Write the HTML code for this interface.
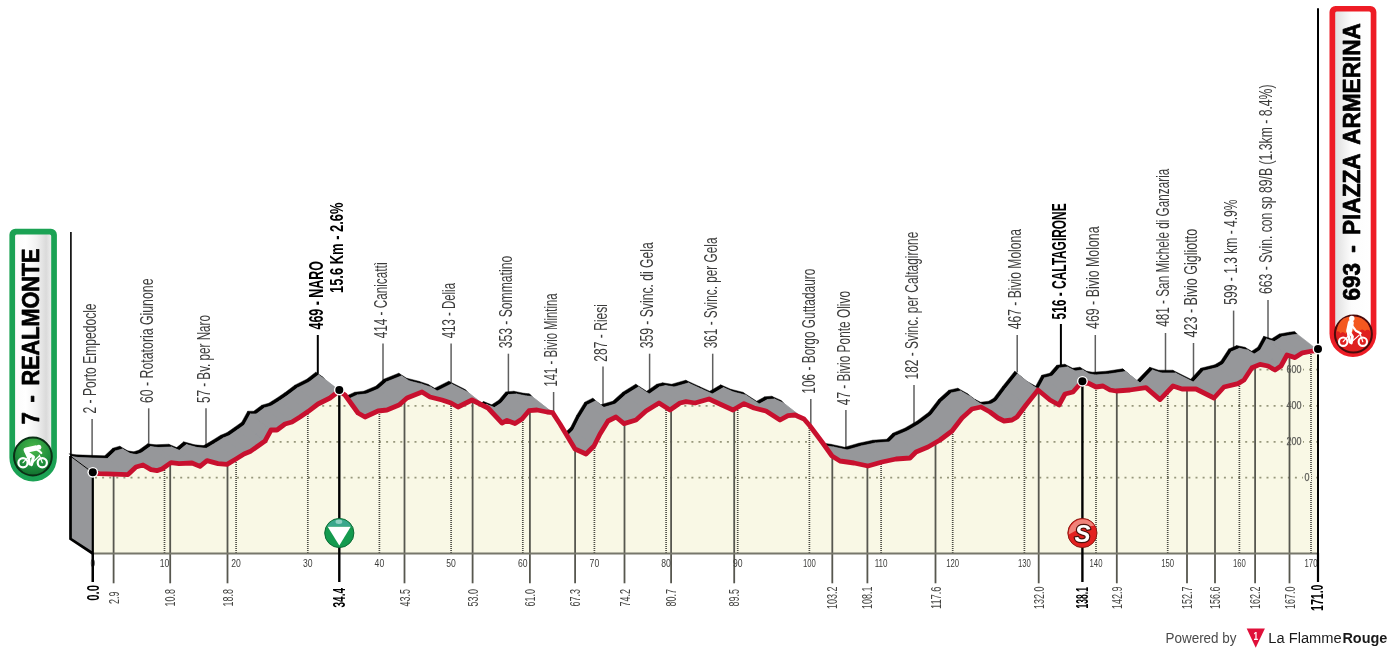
<!DOCTYPE html>
<html><head><meta charset="utf-8"><title>Stage profile</title>
<style>
html,body{margin:0;padding:0;background:#fff}
body{width:1390px;height:654px;overflow:hidden;position:relative;font-family:"Liberation Sans",sans-serif}
svg{position:absolute;left:0;top:0;display:block}
svg text{font-family:"Liberation Sans",sans-serif}
</style></head><body>
<svg width="1390" height="654" viewBox="0 0 1390 654">
<defs>
<clipPath id="front"><polygon points="92.5,472.5 99.0,473.6 128.0,474.6 136.0,467.0 143.0,465.0 151.0,469.6 157.0,470.6 162.0,469.0 171.0,462.6 179.0,463.6 192.0,463.0 200.0,466.4 207.0,460.6 218.0,463.6 227.0,464.4 236.0,459.0 244.0,454.0 250.0,451.6 258.0,446.0 265.0,441.0 271.0,430.0 277.0,430.0 285.0,424.0 292.0,422.0 300.0,417.0 308.0,411.6 318.0,404.0 330.0,398.0 339.0,391.0 345.0,395.0 358.0,413.0 365.0,417.0 378.0,411.0 387.0,410.0 399.0,405.0 407.0,398.0 422.0,392.0 430.0,397.0 442.0,400.0 451.0,403.0 458.0,407.0 472.0,400.0 488.0,408.0 502.0,423.0 507.0,420.4 515.0,423.6 522.0,419.0 529.0,410.7 537.0,410.0 547.0,412.0 552.6,412.6 560.0,424.0 575.0,449.0 586.0,454.0 594.0,446.0 600.0,434.0 608.0,421.0 616.0,417.0 624.0,423.6 636.0,420.0 646.0,411.0 659.0,403.0 670.0,410.0 680.0,403.0 686.0,401.6 695.0,403.0 709.0,399.0 722.0,405.0 733.0,410.0 744.0,403.6 754.0,408.0 766.0,411.0 780.0,420.0 788.0,415.6 795.0,415.0 804.0,419.0 810.0,426.0 822.0,442.0 832.0,456.0 840.0,461.0 854.0,463.0 868.0,466.0 882.0,462.0 896.0,459.0 910.0,458.0 916.0,452.0 928.0,447.0 940.0,440.0 952.0,431.0 962.0,418.0 972.0,409.0 981.0,407.0 990.0,412.0 998.0,418.0 1004.0,421.0 1012.0,420.0 1017.0,417.0 1026.0,405.0 1038.0,390.0 1050.0,400.0 1059.0,405.0 1065.0,394.0 1073.0,392.0 1080.0,384.0 1088.0,383.0 1096.0,387.0 1103.0,386.0 1110.0,390.0 1116.0,391.0 1130.0,390.0 1146.0,387.6 1160.0,399.6 1173.0,386.0 1182.0,389.0 1196.0,389.0 1214.0,398.0 1224.0,387.0 1238.0,383.6 1244.0,380.0 1252.0,367.8 1260.0,364.4 1268.0,366.0 1275.0,370.0 1281.0,366.0 1287.0,355.0 1295.0,357.6 1302.5,352.8 1312.5,351.0 1318.0,350.3 1318.0,553.5 92.5,553.5"/></clipPath>
<linearGradient id="cylL" x1="0" x2="1" y1="0" y2="0"><stop offset="0" stop-color="#fbfbfb"/><stop offset="0.3" stop-color="#ffffff"/><stop offset="0.6" stop-color="#f1f1f1"/><stop offset="0.86" stop-color="#dadada"/><stop offset="1" stop-color="#ededed"/></linearGradient>
<linearGradient id="cylR" x1="0" x2="1" y1="0" y2="0"><stop offset="0" stop-color="#dfdfdf"/><stop offset="0.2" stop-color="#ececec"/><stop offset="0.45" stop-color="#fcfcfc"/><stop offset="1" stop-color="#ffffff"/></linearGradient>
<radialGradient id="gball" cx="0.5" cy="0.3" r="0.75"><stop offset="0" stop-color="#4cb848"/><stop offset="0.6" stop-color="#1f8f3c"/><stop offset="1" stop-color="#0f6a2c"/></radialGradient>
<radialGradient id="rball" cx="0.5" cy="0.35" r="0.75"><stop offset="0" stop-color="#f26522"/><stop offset="0.55" stop-color="#e0201c"/><stop offset="1" stop-color="#b5121b"/></radialGradient>
</defs>
<rect width="1390" height="654" fill="#fff"/>
<line x1="92.1" y1="419.0" x2="92.1" y2="456.5" stroke="#5f5f5f" stroke-width="1.5"/>
<line x1="148.7" y1="408.3" x2="148.7" y2="446.2" stroke="#5f5f5f" stroke-width="1.5"/>
<line x1="206.0" y1="408.3" x2="206.0" y2="446.8" stroke="#5f5f5f" stroke-width="1.5"/>
<line x1="317.8" y1="335.0" x2="317.8" y2="373.9" stroke="#000" stroke-width="2"/>
<line x1="383.0" y1="343.5" x2="383.0" y2="383.4" stroke="#5f5f5f" stroke-width="1.5"/>
<line x1="451.1" y1="343.5" x2="451.1" y2="382.6" stroke="#5f5f5f" stroke-width="1.5"/>
<line x1="508.4" y1="353.7" x2="508.4" y2="393.1" stroke="#5f5f5f" stroke-width="1.5"/>
<line x1="553.6" y1="392.0" x2="553.6" y2="430.0" stroke="#5f5f5f" stroke-width="1.5"/>
<line x1="603.0" y1="366.6" x2="603.0" y2="405.7" stroke="#5f5f5f" stroke-width="1.5"/>
<line x1="649.6" y1="353.7" x2="649.6" y2="392.3" stroke="#5f5f5f" stroke-width="1.5"/>
<line x1="712.7" y1="353.7" x2="712.7" y2="392.3" stroke="#5f5f5f" stroke-width="1.5"/>
<line x1="810.8" y1="399.0" x2="810.8" y2="437.6" stroke="#5f5f5f" stroke-width="1.5"/>
<line x1="845.9" y1="410.0" x2="845.9" y2="448.1" stroke="#5f5f5f" stroke-width="1.5"/>
<line x1="914.0" y1="385.0" x2="914.0" y2="425.5" stroke="#5f5f5f" stroke-width="1.5"/>
<line x1="1017.2" y1="335.0" x2="1017.2" y2="372.6" stroke="#5f5f5f" stroke-width="1.5"/>
<line x1="1060.9" y1="324.0" x2="1060.9" y2="366.2" stroke="#000" stroke-width="2"/>
<line x1="1095.3" y1="335.0" x2="1095.3" y2="373.4" stroke="#5f5f5f" stroke-width="1.5"/>
<line x1="1165.5" y1="333.0" x2="1165.5" y2="371.4" stroke="#5f5f5f" stroke-width="1.5"/>
<line x1="1193.5" y1="343.0" x2="1193.5" y2="380.3" stroke="#5f5f5f" stroke-width="1.5"/>
<line x1="1233.6" y1="310.6" x2="1233.6" y2="349.3" stroke="#5f5f5f" stroke-width="1.5"/>
<line x1="1268.0" y1="300.0" x2="1268.0" y2="337.9" stroke="#5f5f5f" stroke-width="1.5"/>
<path d="M69.2,453.7L75.7,454.8L78.4,457.5L71.9,456.4ZM75.7,454.8L104.7,455.8L107.4,458.5L78.4,457.5ZM104.7,455.8L112.7,448.2L115.4,450.9L107.4,458.5ZM112.7,448.2L119.7,446.2L122.4,448.9L115.4,450.9ZM119.7,446.2L127.7,450.8L130.4,453.5L122.4,448.9ZM127.7,450.8L133.7,451.8L136.4,454.5L130.4,453.5ZM133.7,451.8L138.7,450.2L141.4,452.9L136.4,454.5ZM138.7,450.2L147.7,443.8L150.4,446.5L141.4,452.9ZM147.7,443.8L155.7,444.8L158.4,447.5L150.4,446.5ZM155.7,444.8L168.7,444.2L171.4,446.9L158.4,447.5ZM168.7,444.2L176.7,447.6L179.4,450.3L171.4,446.9ZM176.7,447.6L183.7,441.8L186.4,444.5L179.4,450.3ZM183.7,441.8L194.7,444.8L197.4,447.5L186.4,444.5ZM194.7,444.8L203.7,445.6L206.4,448.3L197.4,447.5ZM203.7,445.6L212.7,440.2L215.4,442.9L206.4,448.3ZM212.7,440.2L220.7,435.2L223.4,437.9L215.4,442.9ZM220.7,435.2L226.7,432.8L229.4,435.5L223.4,437.9ZM226.7,432.8L234.7,427.2L237.4,429.9L229.4,435.5ZM234.7,427.2L241.7,422.2L244.4,424.9L237.4,429.9ZM241.7,422.2L247.7,411.2L250.4,413.9L244.4,424.9ZM247.7,411.2L253.7,411.2L256.4,413.9L250.4,413.9ZM253.7,411.2L261.7,405.2L264.4,407.9L256.4,413.9ZM261.7,405.2L268.7,403.2L271.4,405.9L264.4,407.9ZM268.7,403.2L276.7,398.2L279.4,400.9L271.4,405.9ZM276.7,398.2L284.7,392.8L287.4,395.5L279.4,400.9ZM284.7,392.8L294.7,385.2L297.4,387.9L287.4,395.5ZM294.7,385.2L306.7,379.2L309.4,381.9L297.4,387.9ZM306.7,379.2L315.7,372.2L318.4,374.9L309.4,381.9ZM315.7,372.2L321.7,376.2L324.4,378.9L318.4,374.9ZM324.4,378.9L337.4,396.9L334.7,394.2L321.7,376.2ZM334.7,394.2L341.7,398.2L344.4,400.9L337.4,396.9ZM341.7,398.2L354.7,392.2L357.4,394.9L344.4,400.9ZM354.7,392.2L363.7,391.2L366.4,393.9L357.4,394.9ZM363.7,391.2L375.7,386.2L378.4,388.9L366.4,393.9ZM375.7,386.2L383.7,379.2L386.4,381.9L378.4,388.9ZM383.7,379.2L398.7,373.2L401.4,375.9L386.4,381.9ZM398.7,373.2L406.7,378.2L409.4,380.9L401.4,375.9ZM406.7,378.2L418.7,381.2L421.4,383.9L409.4,380.9ZM418.7,381.2L427.7,384.2L430.4,386.9L421.4,383.9ZM427.7,384.2L434.7,388.2L437.4,390.9L430.4,386.9ZM434.7,388.2L448.7,381.2L451.4,383.9L437.4,390.9ZM448.7,381.2L464.7,389.2L467.4,391.9L451.4,383.9ZM467.4,391.9L481.4,406.9L478.7,404.2L464.7,389.2ZM478.7,404.2L483.7,401.6L486.4,404.3L481.4,406.9ZM483.7,401.6L491.7,404.8L494.4,407.5L486.4,404.3ZM491.7,404.8L498.7,400.2L501.4,402.9L494.4,407.5ZM498.7,400.2L505.7,391.9L508.4,394.6L501.4,402.9ZM505.7,391.9L513.7,391.2L516.4,393.9L508.4,394.6ZM513.7,391.2L523.7,393.2L526.4,395.9L516.4,393.9ZM523.7,393.2L529.3,393.8L532.0,396.5L526.4,395.9ZM532.0,396.5L539.4,407.9L536.7,405.2L529.3,393.8ZM539.4,407.9L554.4,432.9L551.7,430.2L536.7,405.2ZM551.7,430.2L562.7,435.2L565.4,437.9L554.4,432.9ZM562.7,435.2L570.7,427.2L573.4,429.9L565.4,437.9ZM570.7,427.2L576.7,415.2L579.4,417.9L573.4,429.9ZM576.7,415.2L584.7,402.2L587.4,404.9L579.4,417.9ZM584.7,402.2L592.7,398.2L595.4,400.9L587.4,404.9ZM592.7,398.2L600.7,404.8L603.4,407.5L595.4,400.9ZM600.7,404.8L612.7,401.2L615.4,403.9L603.4,407.5ZM612.7,401.2L622.7,392.2L625.4,394.9L615.4,403.9ZM622.7,392.2L635.7,384.2L638.4,386.9L625.4,394.9ZM635.7,384.2L646.7,391.2L649.4,393.9L638.4,386.9ZM646.7,391.2L656.7,384.2L659.4,386.9L649.4,393.9ZM656.7,384.2L662.7,382.8L665.4,385.5L659.4,386.9ZM662.7,382.8L671.7,384.2L674.4,386.9L665.4,385.5ZM671.7,384.2L685.7,380.2L688.4,382.9L674.4,386.9ZM685.7,380.2L698.7,386.2L701.4,388.9L688.4,382.9ZM698.7,386.2L709.7,391.2L712.4,393.9L701.4,388.9ZM709.7,391.2L720.7,384.8L723.4,387.5L712.4,393.9ZM720.7,384.8L730.7,389.2L733.4,391.9L723.4,387.5ZM730.7,389.2L742.7,392.2L745.4,394.9L733.4,391.9ZM742.7,392.2L756.7,401.2L759.4,403.9L745.4,394.9ZM756.7,401.2L764.7,396.8L767.4,399.5L759.4,403.9ZM764.7,396.8L771.7,396.2L774.4,398.9L767.4,399.5ZM771.7,396.2L780.7,400.2L783.4,402.9L774.4,398.9ZM783.4,402.9L789.4,409.9L786.7,407.2L780.7,400.2ZM789.4,409.9L801.4,425.9L798.7,423.2L786.7,407.2ZM801.4,425.9L811.4,439.9L808.7,437.2L798.7,423.2ZM808.7,437.2L816.7,442.2L819.4,444.9L811.4,439.9ZM816.7,442.2L830.7,444.2L833.4,446.9L819.4,444.9ZM830.7,444.2L844.7,447.2L847.4,449.9L833.4,446.9ZM844.7,447.2L858.7,443.2L861.4,445.9L847.4,449.9ZM858.7,443.2L872.7,440.2L875.4,442.9L861.4,445.9ZM872.7,440.2L886.7,439.2L889.4,441.9L875.4,442.9ZM886.7,439.2L892.7,433.2L895.4,435.9L889.4,441.9ZM892.7,433.2L904.7,428.2L907.4,430.9L895.4,435.9ZM904.7,428.2L916.7,421.2L919.4,423.9L907.4,430.9ZM916.7,421.2L928.7,412.2L931.4,414.9L919.4,423.9ZM928.7,412.2L938.7,399.2L941.4,401.9L931.4,414.9ZM938.7,399.2L948.7,390.2L951.4,392.9L941.4,401.9ZM948.7,390.2L957.7,388.2L960.4,390.9L951.4,392.9ZM957.7,388.2L966.7,393.2L969.4,395.9L960.4,390.9ZM966.7,393.2L974.7,399.2L977.4,401.9L969.4,395.9ZM974.7,399.2L980.7,402.2L983.4,404.9L977.4,401.9ZM980.7,402.2L988.7,401.2L991.4,403.9L983.4,404.9ZM988.7,401.2L993.7,398.2L996.4,400.9L991.4,403.9ZM993.7,398.2L1002.7,386.2L1005.4,388.9L996.4,400.9ZM1002.7,386.2L1014.7,371.2L1017.4,373.9L1005.4,388.9ZM1014.7,371.2L1026.7,381.2L1029.4,383.9L1017.4,373.9ZM1026.7,381.2L1035.7,386.2L1038.4,388.9L1029.4,383.9ZM1035.7,386.2L1041.7,375.2L1044.4,377.9L1038.4,388.9ZM1041.7,375.2L1049.7,373.2L1052.4,375.9L1044.4,377.9ZM1049.7,373.2L1056.7,365.2L1059.4,367.9L1052.4,375.9ZM1056.7,365.2L1064.7,364.2L1067.4,366.9L1059.4,367.9ZM1064.7,364.2L1072.7,368.2L1075.4,370.9L1067.4,366.9ZM1072.7,368.2L1079.7,367.2L1082.4,369.9L1075.4,370.9ZM1079.7,367.2L1086.7,371.2L1089.4,373.9L1082.4,369.9ZM1086.7,371.2L1092.7,372.2L1095.4,374.9L1089.4,373.9ZM1092.7,372.2L1106.7,371.2L1109.4,373.9L1095.4,374.9ZM1106.7,371.2L1122.7,368.8L1125.4,371.5L1109.4,373.9ZM1122.7,368.8L1136.7,380.8L1139.4,383.5L1125.4,371.5ZM1136.7,380.8L1149.7,367.2L1152.4,369.9L1139.4,383.5ZM1149.7,367.2L1158.7,370.2L1161.4,372.9L1152.4,369.9ZM1158.7,370.2L1172.7,370.2L1175.4,372.9L1161.4,372.9ZM1172.7,370.2L1190.7,379.2L1193.4,381.9L1175.4,372.9ZM1190.7,379.2L1200.7,368.2L1203.4,370.9L1193.4,381.9ZM1200.7,368.2L1214.7,364.8L1217.4,367.5L1203.4,370.9ZM1214.7,364.8L1220.7,361.2L1223.4,363.9L1217.4,367.5ZM1220.7,361.2L1228.7,349.0L1231.4,351.7L1223.4,363.9ZM1228.7,349.0L1236.7,345.6L1239.4,348.3L1231.4,351.7ZM1236.7,345.6L1244.7,347.2L1247.4,349.9L1239.4,348.3ZM1244.7,347.2L1251.7,351.2L1254.4,353.9L1247.4,349.9ZM1251.7,351.2L1257.7,347.2L1260.4,349.9L1254.4,353.9ZM1257.7,347.2L1263.7,336.2L1266.4,338.9L1260.4,349.9ZM1263.7,336.2L1271.7,338.8L1274.4,341.5L1266.4,338.9ZM1271.7,338.8L1279.2,334.0L1281.9,336.7L1274.4,341.5ZM1279.2,334.0L1289.2,332.2L1291.9,334.9L1281.9,336.7ZM1289.2,332.2L1294.7,331.5L1297.4,334.2L1291.9,334.9Z" fill="#000" stroke="#000" stroke-width="0.45" stroke-linejoin="round"/>
<path d="M71.9,456.4L78.4,457.5L99.0,473.6L92.5,472.5ZM78.4,457.5L107.4,458.5L128.0,474.6L99.0,473.6ZM107.4,458.5L115.4,450.9L136.0,467.0L128.0,474.6ZM115.4,450.9L122.4,448.9L143.0,465.0L136.0,467.0ZM122.4,448.9L130.4,453.5L151.0,469.6L143.0,465.0ZM130.4,453.5L136.4,454.5L157.0,470.6L151.0,469.6ZM136.4,454.5L141.4,452.9L162.0,469.0L157.0,470.6ZM141.4,452.9L150.4,446.5L171.0,462.6L162.0,469.0ZM150.4,446.5L158.4,447.5L179.0,463.6L171.0,462.6ZM158.4,447.5L171.4,446.9L192.0,463.0L179.0,463.6ZM171.4,446.9L179.4,450.3L200.0,466.4L192.0,463.0ZM179.4,450.3L186.4,444.5L207.0,460.6L200.0,466.4ZM186.4,444.5L197.4,447.5L218.0,463.6L207.0,460.6ZM197.4,447.5L206.4,448.3L227.0,464.4L218.0,463.6ZM206.4,448.3L215.4,442.9L236.0,459.0L227.0,464.4ZM215.4,442.9L223.4,437.9L244.0,454.0L236.0,459.0ZM223.4,437.9L229.4,435.5L250.0,451.6L244.0,454.0ZM229.4,435.5L237.4,429.9L258.0,446.0L250.0,451.6ZM237.4,429.9L244.4,424.9L265.0,441.0L258.0,446.0ZM244.4,424.9L250.4,413.9L271.0,430.0L265.0,441.0ZM250.4,413.9L256.4,413.9L277.0,430.0L271.0,430.0ZM256.4,413.9L264.4,407.9L285.0,424.0L277.0,430.0ZM264.4,407.9L271.4,405.9L292.0,422.0L285.0,424.0ZM271.4,405.9L279.4,400.9L300.0,417.0L292.0,422.0ZM279.4,400.9L287.4,395.5L308.0,411.6L300.0,417.0ZM287.4,395.5L297.4,387.9L318.0,404.0L308.0,411.6ZM297.4,387.9L309.4,381.9L330.0,398.0L318.0,404.0ZM309.4,381.9L318.4,374.9L339.0,391.0L330.0,398.0ZM318.4,374.9L324.4,378.9L345.0,395.0L339.0,391.0ZM345.0,395.0L358.0,413.0L337.4,396.9L324.4,378.9ZM337.4,396.9L344.4,400.9L365.0,417.0L358.0,413.0ZM344.4,400.9L357.4,394.9L378.0,411.0L365.0,417.0ZM357.4,394.9L366.4,393.9L387.0,410.0L378.0,411.0ZM366.4,393.9L378.4,388.9L399.0,405.0L387.0,410.0ZM378.4,388.9L386.4,381.9L407.0,398.0L399.0,405.0ZM386.4,381.9L401.4,375.9L422.0,392.0L407.0,398.0ZM401.4,375.9L409.4,380.9L430.0,397.0L422.0,392.0ZM409.4,380.9L421.4,383.9L442.0,400.0L430.0,397.0ZM421.4,383.9L430.4,386.9L451.0,403.0L442.0,400.0ZM430.4,386.9L437.4,390.9L458.0,407.0L451.0,403.0ZM437.4,390.9L451.4,383.9L472.0,400.0L458.0,407.0ZM451.4,383.9L467.4,391.9L488.0,408.0L472.0,400.0ZM488.0,408.0L502.0,423.0L481.4,406.9L467.4,391.9ZM481.4,406.9L486.4,404.3L507.0,420.4L502.0,423.0ZM486.4,404.3L494.4,407.5L515.0,423.6L507.0,420.4ZM494.4,407.5L501.4,402.9L522.0,419.0L515.0,423.6ZM501.4,402.9L508.4,394.6L529.0,410.7L522.0,419.0ZM508.4,394.6L516.4,393.9L537.0,410.0L529.0,410.7ZM516.4,393.9L526.4,395.9L547.0,412.0L537.0,410.0ZM526.4,395.9L532.0,396.5L552.6,412.6L547.0,412.0ZM552.6,412.6L560.0,424.0L539.4,407.9L532.0,396.5ZM560.0,424.0L575.0,449.0L554.4,432.9L539.4,407.9ZM554.4,432.9L565.4,437.9L586.0,454.0L575.0,449.0ZM565.4,437.9L573.4,429.9L594.0,446.0L586.0,454.0ZM573.4,429.9L579.4,417.9L600.0,434.0L594.0,446.0ZM579.4,417.9L587.4,404.9L608.0,421.0L600.0,434.0ZM587.4,404.9L595.4,400.9L616.0,417.0L608.0,421.0ZM616.0,417.0L624.0,423.6L603.4,407.5L595.4,400.9ZM603.4,407.5L615.4,403.9L636.0,420.0L624.0,423.6ZM615.4,403.9L625.4,394.9L646.0,411.0L636.0,420.0ZM625.4,394.9L638.4,386.9L659.0,403.0L646.0,411.0ZM638.4,386.9L649.4,393.9L670.0,410.0L659.0,403.0ZM649.4,393.9L659.4,386.9L680.0,403.0L670.0,410.0ZM659.4,386.9L665.4,385.5L686.0,401.6L680.0,403.0ZM665.4,385.5L674.4,386.9L695.0,403.0L686.0,401.6ZM674.4,386.9L688.4,382.9L709.0,399.0L695.0,403.0ZM688.4,382.9L701.4,388.9L722.0,405.0L709.0,399.0ZM701.4,388.9L712.4,393.9L733.0,410.0L722.0,405.0ZM712.4,393.9L723.4,387.5L744.0,403.6L733.0,410.0ZM723.4,387.5L733.4,391.9L754.0,408.0L744.0,403.6ZM733.4,391.9L745.4,394.9L766.0,411.0L754.0,408.0ZM745.4,394.9L759.4,403.9L780.0,420.0L766.0,411.0ZM759.4,403.9L767.4,399.5L788.0,415.6L780.0,420.0ZM767.4,399.5L774.4,398.9L795.0,415.0L788.0,415.6ZM774.4,398.9L783.4,402.9L804.0,419.0L795.0,415.0ZM804.0,419.0L810.0,426.0L789.4,409.9L783.4,402.9ZM810.0,426.0L822.0,442.0L801.4,425.9L789.4,409.9ZM822.0,442.0L832.0,456.0L811.4,439.9L801.4,425.9ZM811.4,439.9L819.4,444.9L840.0,461.0L832.0,456.0ZM819.4,444.9L833.4,446.9L854.0,463.0L840.0,461.0ZM833.4,446.9L847.4,449.9L868.0,466.0L854.0,463.0ZM847.4,449.9L861.4,445.9L882.0,462.0L868.0,466.0ZM861.4,445.9L875.4,442.9L896.0,459.0L882.0,462.0ZM875.4,442.9L889.4,441.9L910.0,458.0L896.0,459.0ZM889.4,441.9L895.4,435.9L916.0,452.0L910.0,458.0ZM895.4,435.9L907.4,430.9L928.0,447.0L916.0,452.0ZM907.4,430.9L919.4,423.9L940.0,440.0L928.0,447.0ZM919.4,423.9L931.4,414.9L952.0,431.0L940.0,440.0ZM931.4,414.9L941.4,401.9L962.0,418.0L952.0,431.0ZM941.4,401.9L951.4,392.9L972.0,409.0L962.0,418.0ZM951.4,392.9L960.4,390.9L981.0,407.0L972.0,409.0ZM960.4,390.9L969.4,395.9L990.0,412.0L981.0,407.0ZM969.4,395.9L977.4,401.9L998.0,418.0L990.0,412.0ZM977.4,401.9L983.4,404.9L1004.0,421.0L998.0,418.0ZM983.4,404.9L991.4,403.9L1012.0,420.0L1004.0,421.0ZM991.4,403.9L996.4,400.9L1017.0,417.0L1012.0,420.0ZM996.4,400.9L1005.4,388.9L1026.0,405.0L1017.0,417.0ZM1005.4,388.9L1017.4,373.9L1038.0,390.0L1026.0,405.0ZM1038.0,390.0L1050.0,400.0L1029.4,383.9L1017.4,373.9ZM1029.4,383.9L1038.4,388.9L1059.0,405.0L1050.0,400.0ZM1038.4,388.9L1044.4,377.9L1065.0,394.0L1059.0,405.0ZM1044.4,377.9L1052.4,375.9L1073.0,392.0L1065.0,394.0ZM1052.4,375.9L1059.4,367.9L1080.0,384.0L1073.0,392.0ZM1059.4,367.9L1067.4,366.9L1088.0,383.0L1080.0,384.0ZM1067.4,366.9L1075.4,370.9L1096.0,387.0L1088.0,383.0ZM1075.4,370.9L1082.4,369.9L1103.0,386.0L1096.0,387.0ZM1082.4,369.9L1089.4,373.9L1110.0,390.0L1103.0,386.0ZM1089.4,373.9L1095.4,374.9L1116.0,391.0L1110.0,390.0ZM1095.4,374.9L1109.4,373.9L1130.0,390.0L1116.0,391.0ZM1109.4,373.9L1125.4,371.5L1146.0,387.6L1130.0,390.0ZM1146.0,387.6L1160.0,399.6L1139.4,383.5L1125.4,371.5ZM1139.4,383.5L1152.4,369.9L1173.0,386.0L1160.0,399.6ZM1152.4,369.9L1161.4,372.9L1182.0,389.0L1173.0,386.0ZM1161.4,372.9L1175.4,372.9L1196.0,389.0L1182.0,389.0ZM1175.4,372.9L1193.4,381.9L1214.0,398.0L1196.0,389.0ZM1193.4,381.9L1203.4,370.9L1224.0,387.0L1214.0,398.0ZM1203.4,370.9L1217.4,367.5L1238.0,383.6L1224.0,387.0ZM1217.4,367.5L1223.4,363.9L1244.0,380.0L1238.0,383.6ZM1223.4,363.9L1231.4,351.7L1252.0,367.8L1244.0,380.0ZM1231.4,351.7L1239.4,348.3L1260.0,364.4L1252.0,367.8ZM1239.4,348.3L1247.4,349.9L1268.0,366.0L1260.0,364.4ZM1247.4,349.9L1254.4,353.9L1275.0,370.0L1268.0,366.0ZM1254.4,353.9L1260.4,349.9L1281.0,366.0L1275.0,370.0ZM1260.4,349.9L1266.4,338.9L1287.0,355.0L1281.0,366.0ZM1266.4,338.9L1274.4,341.5L1295.0,357.6L1287.0,355.0ZM1274.4,341.5L1281.9,336.7L1302.5,352.8L1295.0,357.6ZM1281.9,336.7L1291.9,334.9L1312.5,351.0L1302.5,352.8ZM1291.9,334.9L1297.4,334.2L1318.0,350.3L1312.5,351.0Z" fill="#96979a" stroke="#96979a" stroke-width="0.6" stroke-linejoin="round"/>
<polygon points="71.0,456.5 92.5,472.5 92.5,553.5 71.0,538.8" fill="#96979a"/>
<line x1="70.9" y1="232" x2="70.9" y2="457" stroke="#000" stroke-width="1.6"/>
<polyline points="70.5,456 70.5,538.8 92.8,553.5" fill="none" stroke="#000" stroke-width="2.7" stroke-linejoin="miter"/>
<line x1="71" y1="456.5" x2="92.5" y2="472.5" stroke="#000" stroke-width="1"/>
<polygon points="92.5,472.5 99.0,473.6 128.0,474.6 136.0,467.0 143.0,465.0 151.0,469.6 157.0,470.6 162.0,469.0 171.0,462.6 179.0,463.6 192.0,463.0 200.0,466.4 207.0,460.6 218.0,463.6 227.0,464.4 236.0,459.0 244.0,454.0 250.0,451.6 258.0,446.0 265.0,441.0 271.0,430.0 277.0,430.0 285.0,424.0 292.0,422.0 300.0,417.0 308.0,411.6 318.0,404.0 330.0,398.0 339.0,391.0 345.0,395.0 358.0,413.0 365.0,417.0 378.0,411.0 387.0,410.0 399.0,405.0 407.0,398.0 422.0,392.0 430.0,397.0 442.0,400.0 451.0,403.0 458.0,407.0 472.0,400.0 488.0,408.0 502.0,423.0 507.0,420.4 515.0,423.6 522.0,419.0 529.0,410.7 537.0,410.0 547.0,412.0 552.6,412.6 560.0,424.0 575.0,449.0 586.0,454.0 594.0,446.0 600.0,434.0 608.0,421.0 616.0,417.0 624.0,423.6 636.0,420.0 646.0,411.0 659.0,403.0 670.0,410.0 680.0,403.0 686.0,401.6 695.0,403.0 709.0,399.0 722.0,405.0 733.0,410.0 744.0,403.6 754.0,408.0 766.0,411.0 780.0,420.0 788.0,415.6 795.0,415.0 804.0,419.0 810.0,426.0 822.0,442.0 832.0,456.0 840.0,461.0 854.0,463.0 868.0,466.0 882.0,462.0 896.0,459.0 910.0,458.0 916.0,452.0 928.0,447.0 940.0,440.0 952.0,431.0 962.0,418.0 972.0,409.0 981.0,407.0 990.0,412.0 998.0,418.0 1004.0,421.0 1012.0,420.0 1017.0,417.0 1026.0,405.0 1038.0,390.0 1050.0,400.0 1059.0,405.0 1065.0,394.0 1073.0,392.0 1080.0,384.0 1088.0,383.0 1096.0,387.0 1103.0,386.0 1110.0,390.0 1116.0,391.0 1130.0,390.0 1146.0,387.6 1160.0,399.6 1173.0,386.0 1182.0,389.0 1196.0,389.0 1214.0,398.0 1224.0,387.0 1238.0,383.6 1244.0,380.0 1252.0,367.8 1260.0,364.4 1268.0,366.0 1275.0,370.0 1281.0,366.0 1287.0,355.0 1295.0,357.6 1302.5,352.8 1312.5,351.0 1318.0,350.3 1318.0,553.5 92.5,553.5" fill="#f9f8e5"/>
<g clip-path="url(#front)">
<line x1="95" y1="477.7" x2="1318" y2="477.7" stroke="#98987c" stroke-width="1.8" stroke-dasharray="2 5.1"/>
<line x1="95" y1="441.8" x2="1318" y2="441.8" stroke="#98987c" stroke-width="1.8" stroke-dasharray="2 5.1"/>
<line x1="95" y1="405.8" x2="1318" y2="405.8" stroke="#98987c" stroke-width="1.8" stroke-dasharray="2 5.1"/>
<line x1="95" y1="369.7" x2="1318" y2="369.7" stroke="#98987c" stroke-width="1.8" stroke-dasharray="2 5.1"/>
<line x1="164.5" y1="340" x2="164.5" y2="553.5" stroke="#4a4a42" stroke-width="1.7" stroke-dasharray="1 1"/>
<line x1="236.1" y1="340" x2="236.1" y2="553.5" stroke="#4a4a42" stroke-width="1.7" stroke-dasharray="1 1"/>
<line x1="307.8" y1="340" x2="307.8" y2="553.5" stroke="#4a4a42" stroke-width="1.7" stroke-dasharray="1 1"/>
<line x1="379.4" y1="340" x2="379.4" y2="553.5" stroke="#4a4a42" stroke-width="1.7" stroke-dasharray="1 1"/>
<line x1="451.1" y1="340" x2="451.1" y2="553.5" stroke="#4a4a42" stroke-width="1.7" stroke-dasharray="1 1"/>
<line x1="522.8" y1="340" x2="522.8" y2="553.5" stroke="#4a4a42" stroke-width="1.7" stroke-dasharray="1 1"/>
<line x1="594.4" y1="340" x2="594.4" y2="553.5" stroke="#4a4a42" stroke-width="1.7" stroke-dasharray="1 1"/>
<line x1="666.1" y1="340" x2="666.1" y2="553.5" stroke="#4a4a42" stroke-width="1.7" stroke-dasharray="1 1"/>
<line x1="737.7" y1="340" x2="737.7" y2="553.5" stroke="#4a4a42" stroke-width="1.7" stroke-dasharray="1 1"/>
<line x1="809.4" y1="340" x2="809.4" y2="553.5" stroke="#4a4a42" stroke-width="1.7" stroke-dasharray="1 1"/>
<line x1="881.1" y1="340" x2="881.1" y2="553.5" stroke="#4a4a42" stroke-width="1.7" stroke-dasharray="1 1"/>
<line x1="952.7" y1="340" x2="952.7" y2="553.5" stroke="#4a4a42" stroke-width="1.7" stroke-dasharray="1 1"/>
<line x1="1024.4" y1="340" x2="1024.4" y2="553.5" stroke="#4a4a42" stroke-width="1.7" stroke-dasharray="1 1"/>
<line x1="1096.0" y1="340" x2="1096.0" y2="553.5" stroke="#4a4a42" stroke-width="1.7" stroke-dasharray="1 1"/>
<line x1="1167.7" y1="340" x2="1167.7" y2="553.5" stroke="#4a4a42" stroke-width="1.7" stroke-dasharray="1 1"/>
<line x1="1239.4" y1="340" x2="1239.4" y2="553.5" stroke="#4a4a42" stroke-width="1.7" stroke-dasharray="1 1"/>
<line x1="1311.0" y1="340" x2="1311.0" y2="553.5" stroke="#4a4a42" stroke-width="1.7" stroke-dasharray="1 1"/>
</g>
<rect x="1285.0" y="365.0" width="18.0" height="9" fill="#f9f8e5"/>
<text x="1301.5" y="373.3" font-size="10.6" fill="#5c5c58" stroke="#5c5c58" stroke-width="0.25" text-anchor="end" textLength="15.0" lengthAdjust="spacingAndGlyphs">600</text>
<rect x="1285.0" y="401.1" width="18.0" height="9" fill="#f9f8e5"/>
<text x="1301.5" y="409.4" font-size="10.6" fill="#5c5c58" stroke="#5c5c58" stroke-width="0.25" text-anchor="end" textLength="15.0" lengthAdjust="spacingAndGlyphs">400</text>
<rect x="1285.0" y="437.1" width="18.0" height="9" fill="#f9f8e5"/>
<text x="1301.5" y="445.4" font-size="10.6" fill="#5c5c58" stroke="#5c5c58" stroke-width="0.25" text-anchor="end" textLength="15.0" lengthAdjust="spacingAndGlyphs">200</text>
<rect x="1303.0" y="473.0" width="8.0" height="9" fill="#f9f8e5"/>
<text x="1309.5" y="481.3" font-size="10.6" fill="#5c5c58" stroke="#5c5c58" stroke-width="0.25" text-anchor="end" textLength="5.0" lengthAdjust="spacingAndGlyphs">0</text>
<line x1="113.6" y1="474.1" x2="113.6" y2="583.3" stroke="#57574f" stroke-width="1.8"/>
<line x1="170.2" y1="463.2" x2="170.2" y2="583.3" stroke="#57574f" stroke-width="1.8"/>
<line x1="227.5" y1="464.1" x2="227.5" y2="583.3" stroke="#57574f" stroke-width="1.8"/>
<line x1="404.5" y1="400.2" x2="404.5" y2="583.3" stroke="#57574f" stroke-width="1.8"/>
<line x1="472.6" y1="400.3" x2="472.6" y2="583.3" stroke="#57574f" stroke-width="1.8"/>
<line x1="529.9" y1="410.6" x2="529.9" y2="583.3" stroke="#57574f" stroke-width="1.8"/>
<line x1="575.1" y1="449.0" x2="575.1" y2="583.3" stroke="#57574f" stroke-width="1.8"/>
<line x1="624.5" y1="423.4" x2="624.5" y2="583.3" stroke="#57574f" stroke-width="1.8"/>
<line x1="671.1" y1="409.2" x2="671.1" y2="583.3" stroke="#57574f" stroke-width="1.8"/>
<line x1="734.2" y1="409.3" x2="734.2" y2="583.3" stroke="#57574f" stroke-width="1.8"/>
<line x1="832.3" y1="456.2" x2="832.3" y2="583.3" stroke="#57574f" stroke-width="1.8"/>
<line x1="867.4" y1="465.9" x2="867.4" y2="583.3" stroke="#57574f" stroke-width="1.8"/>
<line x1="935.5" y1="442.6" x2="935.5" y2="583.3" stroke="#57574f" stroke-width="1.8"/>
<line x1="1038.7" y1="390.6" x2="1038.7" y2="583.3" stroke="#57574f" stroke-width="1.8"/>
<line x1="1116.8" y1="390.9" x2="1116.8" y2="583.3" stroke="#57574f" stroke-width="1.8"/>
<line x1="1187.0" y1="389.0" x2="1187.0" y2="583.3" stroke="#57574f" stroke-width="1.8"/>
<line x1="1215.0" y1="396.9" x2="1215.0" y2="583.3" stroke="#57574f" stroke-width="1.8"/>
<line x1="1255.1" y1="366.5" x2="1255.1" y2="583.3" stroke="#57574f" stroke-width="1.8"/>
<line x1="1289.5" y1="355.8" x2="1289.5" y2="583.3" stroke="#57574f" stroke-width="1.8"/>
<line x1="92.5" y1="553.5" x2="1318" y2="553.5" stroke="#77776b" stroke-width="2"/>
<polyline points="92.5,472.5 99.0,473.6 128.0,474.6 136.0,467.0 143.0,465.0 151.0,469.6 157.0,470.6 162.0,469.0 171.0,462.6 179.0,463.6 192.0,463.0 200.0,466.4 207.0,460.6 218.0,463.6 227.0,464.4 236.0,459.0 244.0,454.0 250.0,451.6 258.0,446.0 265.0,441.0 271.0,430.0 277.0,430.0 285.0,424.0 292.0,422.0 300.0,417.0 308.0,411.6 318.0,404.0 330.0,398.0 339.0,391.0 345.0,395.0 358.0,413.0 365.0,417.0 378.0,411.0 387.0,410.0 399.0,405.0 407.0,398.0 422.0,392.0 430.0,397.0 442.0,400.0 451.0,403.0 458.0,407.0 472.0,400.0 488.0,408.0 502.0,423.0 507.0,420.4 515.0,423.6 522.0,419.0 529.0,410.7 537.0,410.0 547.0,412.0 552.6,412.6 560.0,424.0 575.0,449.0 586.0,454.0 594.0,446.0 600.0,434.0 608.0,421.0 616.0,417.0 624.0,423.6 636.0,420.0 646.0,411.0 659.0,403.0 670.0,410.0 680.0,403.0 686.0,401.6 695.0,403.0 709.0,399.0 722.0,405.0 733.0,410.0 744.0,403.6 754.0,408.0 766.0,411.0 780.0,420.0 788.0,415.6 795.0,415.0 804.0,419.0 810.0,426.0 822.0,442.0 832.0,456.0 840.0,461.0 854.0,463.0 868.0,466.0 882.0,462.0 896.0,459.0 910.0,458.0 916.0,452.0 928.0,447.0 940.0,440.0 952.0,431.0 962.0,418.0 972.0,409.0 981.0,407.0 990.0,412.0 998.0,418.0 1004.0,421.0 1012.0,420.0 1017.0,417.0 1026.0,405.0 1038.0,390.0 1050.0,400.0 1059.0,405.0 1065.0,394.0 1073.0,392.0 1080.0,384.0 1088.0,383.0 1096.0,387.0 1103.0,386.0 1110.0,390.0 1116.0,391.0 1130.0,390.0 1146.0,387.6 1160.0,399.6 1173.0,386.0 1182.0,389.0 1196.0,389.0 1214.0,398.0 1224.0,387.0 1238.0,383.6 1244.0,380.0 1252.0,367.8 1260.0,364.4 1268.0,366.0 1275.0,370.0 1281.0,366.0 1287.0,355.0 1295.0,357.6 1302.5,352.8 1312.5,351.0 1318.0,350.3" fill="none" stroke="#c8102e" stroke-width="4.8" stroke-linejoin="round" stroke-linecap="round"/>
<line x1="92.8" y1="472.5" x2="92.8" y2="582" stroke="#000" stroke-width="2.2"/>
<line x1="339.3" y1="391.2" x2="339.3" y2="582" stroke="#000" stroke-width="2.4"/>
<line x1="1082.4" y1="383.7" x2="1082.4" y2="582" stroke="#000" stroke-width="2.4"/>
<line x1="1318" y1="8.3" x2="1318" y2="582" stroke="#000" stroke-width="2"/>
<circle cx="92.8" cy="472.3" r="5.4" fill="#fff"/><circle cx="92.8" cy="472.3" r="4" fill="#000"/>
<circle cx="339.3" cy="390.0" r="5.4" fill="#fff"/><circle cx="339.3" cy="390.0" r="4" fill="#000"/>
<circle cx="1082.4" cy="381.3" r="5.4" fill="#fff"/><circle cx="1082.4" cy="381.3" r="4" fill="#000"/>
<circle cx="1318.0" cy="349.0" r="5.4" fill="#fff"/><circle cx="1318.0" cy="349.0" r="4" fill="#000"/>
<text x="92.8" y="567" font-size="10.8" fill="#3c3c3a" text-anchor="middle" textLength="4.6" lengthAdjust="spacingAndGlyphs">0</text>
<text x="164.5" y="567" font-size="10.8" fill="#3c3c3a" text-anchor="middle" textLength="9.6" lengthAdjust="spacingAndGlyphs">10</text>
<text x="236.1" y="567" font-size="10.8" fill="#3c3c3a" text-anchor="middle" textLength="9.6" lengthAdjust="spacingAndGlyphs">20</text>
<text x="307.8" y="567" font-size="10.8" fill="#3c3c3a" text-anchor="middle" textLength="9.6" lengthAdjust="spacingAndGlyphs">30</text>
<text x="379.4" y="567" font-size="10.8" fill="#3c3c3a" text-anchor="middle" textLength="9.6" lengthAdjust="spacingAndGlyphs">40</text>
<text x="451.1" y="567" font-size="10.8" fill="#3c3c3a" text-anchor="middle" textLength="9.6" lengthAdjust="spacingAndGlyphs">50</text>
<text x="522.8" y="567" font-size="10.8" fill="#3c3c3a" text-anchor="middle" textLength="9.6" lengthAdjust="spacingAndGlyphs">60</text>
<text x="594.4" y="567" font-size="10.8" fill="#3c3c3a" text-anchor="middle" textLength="9.6" lengthAdjust="spacingAndGlyphs">70</text>
<text x="666.1" y="567" font-size="10.8" fill="#3c3c3a" text-anchor="middle" textLength="9.6" lengthAdjust="spacingAndGlyphs">80</text>
<text x="737.7" y="567" font-size="10.8" fill="#3c3c3a" text-anchor="middle" textLength="9.6" lengthAdjust="spacingAndGlyphs">90</text>
<text x="809.4" y="567" font-size="10.8" fill="#3c3c3a" text-anchor="middle" textLength="12.9" lengthAdjust="spacingAndGlyphs">100</text>
<text x="881.1" y="567" font-size="10.8" fill="#3c3c3a" text-anchor="middle" textLength="12.9" lengthAdjust="spacingAndGlyphs">110</text>
<text x="952.7" y="567" font-size="10.8" fill="#3c3c3a" text-anchor="middle" textLength="12.9" lengthAdjust="spacingAndGlyphs">120</text>
<text x="1024.4" y="567" font-size="10.8" fill="#3c3c3a" text-anchor="middle" textLength="12.9" lengthAdjust="spacingAndGlyphs">130</text>
<text x="1096.0" y="567" font-size="10.8" fill="#3c3c3a" text-anchor="middle" textLength="12.9" lengthAdjust="spacingAndGlyphs">140</text>
<text x="1167.7" y="567" font-size="10.8" fill="#3c3c3a" text-anchor="middle" textLength="12.9" lengthAdjust="spacingAndGlyphs">150</text>
<text x="1239.4" y="567" font-size="10.8" fill="#3c3c3a" text-anchor="middle" textLength="12.9" lengthAdjust="spacingAndGlyphs">160</text>
<text x="1311.0" y="567" font-size="10.8" fill="#3c3c3a" text-anchor="middle" textLength="12.9" lengthAdjust="spacingAndGlyphs">170</text>
<line x1="92.8" y1="553" x2="92.8" y2="582" stroke="#000" stroke-width="2.2"/>
<line x1="1318" y1="553" x2="1318" y2="582" stroke="#000" stroke-width="2.2"/>
<text transform="translate(118.6 604.0) rotate(-90)" font-size="14.2" fill="#454542" textLength="12.4" lengthAdjust="spacingAndGlyphs">2.9</text>
<text transform="translate(175.2 606.5) rotate(-90)" font-size="14.2" fill="#454542" textLength="17.4" lengthAdjust="spacingAndGlyphs">10.8</text>
<text transform="translate(232.5 606.5) rotate(-90)" font-size="14.2" fill="#454542" textLength="17.4" lengthAdjust="spacingAndGlyphs">18.8</text>
<text transform="translate(409.5 606.5) rotate(-90)" font-size="14.2" fill="#454542" textLength="17.4" lengthAdjust="spacingAndGlyphs">43.5</text>
<text transform="translate(477.6 606.5) rotate(-90)" font-size="14.2" fill="#454542" textLength="17.4" lengthAdjust="spacingAndGlyphs">53.0</text>
<text transform="translate(534.9 606.5) rotate(-90)" font-size="14.2" fill="#454542" textLength="17.4" lengthAdjust="spacingAndGlyphs">61.0</text>
<text transform="translate(580.1 606.5) rotate(-90)" font-size="14.2" fill="#454542" textLength="17.4" lengthAdjust="spacingAndGlyphs">67.3</text>
<text transform="translate(629.5 606.5) rotate(-90)" font-size="14.2" fill="#454542" textLength="17.4" lengthAdjust="spacingAndGlyphs">74.2</text>
<text transform="translate(676.1 606.5) rotate(-90)" font-size="14.2" fill="#454542" textLength="17.4" lengthAdjust="spacingAndGlyphs">80.7</text>
<text transform="translate(739.2 606.5) rotate(-90)" font-size="14.2" fill="#454542" textLength="17.4" lengthAdjust="spacingAndGlyphs">89.5</text>
<text transform="translate(837.3 609.0) rotate(-90)" font-size="14.2" fill="#454542" textLength="22.4" lengthAdjust="spacingAndGlyphs">103.2</text>
<text transform="translate(872.4 609.0) rotate(-90)" font-size="14.2" fill="#454542" textLength="22.4" lengthAdjust="spacingAndGlyphs">108.1</text>
<text transform="translate(940.5 609.0) rotate(-90)" font-size="14.2" fill="#454542" textLength="22.4" lengthAdjust="spacingAndGlyphs">117.6</text>
<text transform="translate(1043.7 609.0) rotate(-90)" font-size="14.2" fill="#454542" textLength="22.4" lengthAdjust="spacingAndGlyphs">132.0</text>
<text transform="translate(1121.8 609.0) rotate(-90)" font-size="14.2" fill="#454542" textLength="22.4" lengthAdjust="spacingAndGlyphs">142.9</text>
<text transform="translate(1192.0 609.0) rotate(-90)" font-size="14.2" fill="#454542" textLength="22.4" lengthAdjust="spacingAndGlyphs">152.7</text>
<text transform="translate(1220.0 609.0) rotate(-90)" font-size="14.2" fill="#454542" textLength="22.4" lengthAdjust="spacingAndGlyphs">156.6</text>
<text transform="translate(1260.1 609.0) rotate(-90)" font-size="14.2" fill="#454542" textLength="22.4" lengthAdjust="spacingAndGlyphs">162.2</text>
<text transform="translate(1294.5 609.0) rotate(-90)" font-size="14.2" fill="#454542" textLength="22.4" lengthAdjust="spacingAndGlyphs">167.0</text>
<text transform="translate(98.6 600.8) rotate(-90)" font-size="16.3" fill="#000" font-weight="bold" textLength="15.8" lengthAdjust="spacingAndGlyphs">0.0</text>
<text transform="translate(345.1 607.5) rotate(-90)" font-size="16.3" fill="#000" font-weight="bold" textLength="19.5" lengthAdjust="spacingAndGlyphs">34.4</text>
<text transform="translate(1088.2 608.5) rotate(-90)" font-size="16.3" fill="#000" font-weight="bold" textLength="21.5" lengthAdjust="spacingAndGlyphs">138.1</text>
<text transform="translate(1322.5 610.9) rotate(-90)" font-size="16.3" fill="#000" font-weight="bold" textLength="26.3" lengthAdjust="spacingAndGlyphs">171.0</text>
<text transform="translate(95.9 413.5) rotate(-90)" font-size="19.2" fill="#3b3b3a" textLength="110.1" lengthAdjust="spacingAndGlyphs">2 - Porto Empedocle</text>
<text transform="translate(152.5 403.0) rotate(-90)" font-size="19.2" fill="#3b3b3a" textLength="124.5" lengthAdjust="spacingAndGlyphs">60 - Rotatoria Giunone</text>
<text transform="translate(209.8 403.0) rotate(-90)" font-size="19.2" fill="#3b3b3a" textLength="88.0" lengthAdjust="spacingAndGlyphs">57 - Bv. per Naro</text>
<text transform="translate(322.8 329.5) rotate(-90)" font-size="19.4" fill="#000" font-weight="bold" textLength="68.5" lengthAdjust="spacingAndGlyphs">469 - NARO</text>
<text transform="translate(386.8 338.2) rotate(-90)" font-size="19.2" fill="#3b3b3a" textLength="76.2" lengthAdjust="spacingAndGlyphs">414 - Canicattì</text>
<text transform="translate(454.9 338.3) rotate(-90)" font-size="19.2" fill="#3b3b3a" textLength="55.3" lengthAdjust="spacingAndGlyphs">413 - Delia</text>
<text transform="translate(512.2 348.3) rotate(-90)" font-size="19.2" fill="#3b3b3a" textLength="92.5" lengthAdjust="spacingAndGlyphs">353 - Sommatino</text>
<text transform="translate(557.4 386.5) rotate(-90)" font-size="19.2" fill="#3b3b3a" textLength="93.1" lengthAdjust="spacingAndGlyphs">141 - Bivio Mintina</text>
<text transform="translate(606.8 361.7) rotate(-90)" font-size="19.2" fill="#3b3b3a" textLength="57.7" lengthAdjust="spacingAndGlyphs">287 - Riesi</text>
<text transform="translate(653.4 348.3) rotate(-90)" font-size="19.2" fill="#3b3b3a" textLength="106.0" lengthAdjust="spacingAndGlyphs">359 - Svinc. di Gela</text>
<text transform="translate(716.5 348.3) rotate(-90)" font-size="19.2" fill="#3b3b3a" textLength="110.8" lengthAdjust="spacingAndGlyphs">361 - Svinc. per Gela</text>
<text transform="translate(814.6 393.7) rotate(-90)" font-size="19.2" fill="#3b3b3a" textLength="125.1" lengthAdjust="spacingAndGlyphs">106 - Borgo Guttadauro</text>
<text transform="translate(849.7 405.2) rotate(-90)" font-size="19.2" fill="#3b3b3a" textLength="114.2" lengthAdjust="spacingAndGlyphs">47 - Bivio Ponte Olivo</text>
<text transform="translate(917.8 379.5) rotate(-90)" font-size="19.2" fill="#3b3b3a" textLength="147.8" lengthAdjust="spacingAndGlyphs">182 - Svinc. per Caltagirone</text>
<text transform="translate(1021.0 329.2) rotate(-90)" font-size="19.2" fill="#3b3b3a" textLength="100.2" lengthAdjust="spacingAndGlyphs">467 - Bivio Molona</text>
<text transform="translate(1065.9 319.4) rotate(-90)" font-size="19.4" fill="#000" font-weight="bold" textLength="116.0" lengthAdjust="spacingAndGlyphs">516 - CALTAGIRONE</text>
<text transform="translate(1099.1 329.0) rotate(-90)" font-size="19.2" fill="#3b3b3a" textLength="102.6" lengthAdjust="spacingAndGlyphs">469 - Bivio Molona</text>
<text transform="translate(1169.3 326.8) rotate(-90)" font-size="19.2" fill="#3b3b3a" textLength="158.1" lengthAdjust="spacingAndGlyphs">481 - San Michele di Ganzaria</text>
<text transform="translate(1197.3 337.5) rotate(-90)" font-size="19.2" fill="#3b3b3a" textLength="108.6" lengthAdjust="spacingAndGlyphs">423 - Bivio Gigliotto</text>
<text transform="translate(1237.4 304.7) rotate(-90)" font-size="19.2" fill="#3b3b3a" textLength="105.2" lengthAdjust="spacingAndGlyphs">599 - 1.3 km - 4.9%</text>
<text transform="translate(1271.8 294.0) rotate(-90)" font-size="19.2" fill="#3b3b3a" textLength="209.5" lengthAdjust="spacingAndGlyphs">663 - Svin. con sp 89/B (1.3km - 8.4%)</text>
<text transform="translate(342.5 293.0) rotate(-90)" font-size="19.0" fill="#000" font-weight="bold" textLength="90.5" lengthAdjust="spacingAndGlyphs">15.6 Km - 2.6%</text>
<g><circle cx="339.3" cy="533.0" r="14.6" fill="#149a4e" stroke="#0b6a34" stroke-width="1"/>
<path d="M326.9,526.6 A14.1,14.1 0 0 1 351.7,526.6 Z" fill="#3aa78c"/>
<ellipse cx="338.9" cy="521.8" rx="3.4" ry="2.2" fill="#8fd0c2"/>
<polygon points="327.7,526.8 350.7,526.8 339.3,545.4" fill="#fff"/></g>
<g><circle cx="1082.4" cy="533.0" r="14.6" fill="#e3201f" stroke="#8c1a12" stroke-width="1"/>
<path d="M1068.8,534.5 A14,14 0 0 1 1094.4,525.5 Q1080.4,527.0 1068.8,534.5 Z" fill="#f0837a"/>
<text x="1082.6" y="541.6" font-size="24" font-weight="bold" font-style="italic" fill="#fff" stroke="#4a100a" stroke-width="2.4" stroke-linejoin="round" paint-order="stroke" text-anchor="middle">S</text></g>
<path d="M9.4,234.8 A6,6 0 0 1 15.4,228.8 L50.9,228.8 A6,6 0 0 1 56.9,234.8 L56.9,457.8 A23.75,23.75 0 0 1 9.4,457.8 Z" fill="#1ba254"/>
<path d="M15.1,236.0 A1.5,1.5 0 0 1 16.6,234.5 L49.7,234.5 A1.5,1.5 0 0 1 51.2,236.0 L51.2,457.8 A18.05,18.05 0 0 1 15.1,457.8 Z" fill="url(#cylL)"/>
<circle cx="32.9" cy="456.5" r="18.9" fill="url(#gball)" stroke="#0a2f15" stroke-width="2"/>
<g transform="translate(32.90 456.50)" fill="#fff" stroke="#fff" stroke-linecap="round" stroke-linejoin="round">
<circle cx="-9.9" cy="6.2" r="4.6" fill="none" stroke-width="2.2"/>
<circle cx="9.4" cy="6.2" r="4.6" fill="none" stroke-width="2.2"/>
<path d="M-6.6,-6.4 L2.6,-8.4" fill="none" stroke-width="5.4"/>
<circle cx="5.9" cy="-9.3" r="2.5" stroke="none"/>
<path d="M3.6,-7.2 L6.4,-5.4 L8.4,-3.4" fill="none" stroke-width="2.1"/>
<path d="M-6.4,-4.4 L0.6,0.4 L-1.4,8.2" fill="none" stroke-width="3"/>
<path d="M-7,-4 L-4,2.4 L-3.4,7.6" fill="none" stroke-width="2.6"/>
<path d="M-6.8,-5 L-0.6,-0.4 L-3.8,2.2 Z" stroke-width="1"/>
<path d="M-9.9,6.2 L-4.6,0.6 M9.4,6.2 L6.4,-1.4 M-2.4,8 L5.8,0" fill="none" stroke-width="1.2"/>
</g>
<text transform="translate(39.2 424.2) rotate(-90)" font-size="23.0" fill="#000" font-weight="bold" stroke="#000" stroke-width="0.7" stroke-linejoin="round" word-spacing="4" textLength="175.7" lengthAdjust="spacingAndGlyphs">7 - REALMONTE</text>
<path d="M1329.5,11.9 A6,6 0 0 1 1335.5,5.9 L1370.4,5.9 A6,6 0 0 1 1376.4,11.9 L1376.4,333.5 A23.45,23.45 0 0 1 1329.5,333.5 Z" fill="#ee1c25"/>
<path d="M1335.2,13.1 A1.5,1.5 0 0 1 1336.7,11.6 L1369.2,11.6 A1.5,1.5 0 0 1 1370.7,13.1 L1370.7,333.5 A17.75,17.75 0 0 1 1335.2,333.5 Z" fill="url(#cylR)"/>
<circle cx="1353.4" cy="334.1" r="18.5" fill="#df1f1f" stroke="#4a0b0b" stroke-width="2"/>
<path d="M1336.8,331.5 Q1337.5,323 1343.5,318.6 Q1348,316.4 1352,316.6 Q1362,316.2 1367.6,323.6 Q1370,328 1370,331 Q1367.5,328.6 1365,331 Q1362,327.6 1359,331.6 Q1355,327 1352,333 Q1348,329 1345.6,334 Q1342.6,330 1340.6,333.6 Q1339,330.6 1336.8,331.5 Z" fill="#f4581f"/>
<g transform="translate(1353.40 334.10)" fill="#fff" stroke="#fff" stroke-linecap="round" stroke-linejoin="round">
<circle cx="-10.2" cy="7.6" r="4.2" fill="none" stroke-width="2.1"/>
<circle cx="9.4" cy="7.6" r="4.2" fill="none" stroke-width="2.1"/>
<circle cx="-1.6" cy="-15.6" r="2.7" stroke="none"/>
<path d="M-2.6,-11 L-4.2,-3.4" fill="none" stroke-width="6"/>
<path d="M-1.4,-8.4 L2.4,-3.4 L7.2,-0.8" fill="none" stroke-width="2.2"/>
<path d="M-4.2,-2.4 L-1,2.4 L-2.2,8.8" fill="none" stroke-width="3"/>
<path d="M-5.4,-2 L-4.6,3 L-3.6,8" fill="none" stroke-width="2.6"/>
<path d="M-10.2,7.6 L-4.8,1.6 M9.4,7.6 L6.6,-0.6 M-2.6,8.4 L5.8,1" fill="none" stroke-width="1.2"/>
</g>
<text transform="translate(1359.5 300.6) rotate(-90)" font-size="23.0" fill="#000" font-weight="bold" stroke="#000" stroke-width="0.7" stroke-linejoin="round" word-spacing="4" textLength="277.5" lengthAdjust="spacingAndGlyphs">693 - PIAZZA ARMERINA</text>
<text x="1165.5" y="642.6" font-size="14" fill="#4a4a4a" textLength="71" lengthAdjust="spacingAndGlyphs">Powered by</text>
<polygon points="1246.7,628.5 1264.9,628.5 1255.7,647.8" fill="#e0103a"/>
<text x="1255.7" y="640" font-size="10.6" font-weight="bold" fill="#fff" text-anchor="middle" textLength="4.6" lengthAdjust="spacingAndGlyphs">1</text>
<text x="1268.3" y="642.6" font-size="15.5" fill="#1a1a1a" textLength="73.4" lengthAdjust="spacingAndGlyphs">La Flamme</text>
<text x="1342.4" y="642.6" font-size="15.5" font-weight="bold" fill="#1a1a1a" textLength="45" lengthAdjust="spacingAndGlyphs">Rouge</text>
</svg>
</body></html>
